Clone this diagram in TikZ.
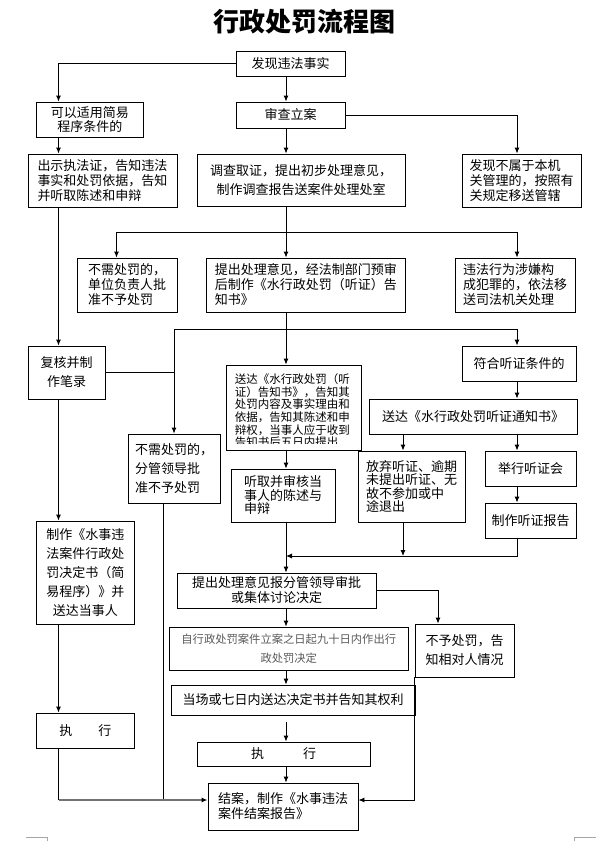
\documentclass[tikz,border=0pt]{standalone}
\usepackage{fontspec}
\newfontfamily\cjk{Noto Sans CJK SC}
\usetikzlibrary{arrows.meta}

\newcommand{\zh}[2]{\cjk\fontsize{#1}{#2}\selectfont}
\tikzset{
  box/.style={draw, line width=0.9pt, inner sep=2pt, align=center},
  flow/.style={line width=0.9pt, -{Latex[length=6pt,width=5pt]}},
  link/.style={line width=0.9pt},
}

\begin{document}
\begin{tikzpicture}[x=1pt,y=-1pt,every node/.style={font=\zh{13}{15}}]
  \useasboundingbox (0,0) rectangle (601,841);
  \node[font=\cjk\bfseries\fontsize{26}{30}\selectfont] (title) at (304,22) {行政处罚流程图};

  % column and row positions of the connectors
  \coordinate (colL) at (58.5,0);
  \coordinate (colA) at (116.5,0);
  \coordinate (colG) at (163.5,0);
  \coordinate (colB) at (174,0);
  \coordinate (colM) at (286,0);
  \coordinate (colF) at (403,0);
  \coordinate (colP) at (438,0);
  \coordinate (colR) at (517,0);
  \coordinate (fork1) at (0,232);
  \coordinate (fork2) at (0,329);
  \coordinate (merge) at (0,556);
  \coordinate (endrow) at (0,800);

  % boxes
  \node[box, minimum width=109, minimum height=25] (faxian) at (290.5,63.5) {发现违法事实};
  \node[box, minimum width=106.5, minimum height=35, font=\zh{13}{14}] (jianyi) at (89.75,119.5) {可以适用简易\\程序条件的};
  \node[box, minimum width=109, minimum height=26] (shencha) at (290.5,115) {审查立案};
  \node[box, minimum width=149, minimum height=53, align=left] (chushi) at (102.5,180.5) {出示执法证，告知违法\\事实和处罚依据，告知\\并听取陈述和申辩};
  \node[box, minimum width=208, minimum height=52, font=\zh{13}{19}] (diaocha) at (301,180) {调查取证，提出初步处理意见，\\制作调查报告送案件处理处室};
  \node[box, minimum width=119, minimum height=53, align=left] (bushu) at (521.5,180.5) {发现不属于本机\\关管理的，按照有\\关规定移送管辖};
  \node[box, minimum width=100, minimum height=54, align=left] (buxu1) at (127,285) {不需处罚的，\\单位负责人批\\准不予处罚};
  \node[box, minimum width=198.5, minimum height=54, align=left] (tichu1) at (305.75,285) {提出处理意见，经法制部门预审\\后制作《水行政处罚（听证）告\\知书》};
  \node[box, minimum width=120, minimum height=54, align=left] (fanzui) at (515,285) {违法行为涉嫌构\\成犯罪的，依法移\\送司法机关处理};
  \node[box, minimum width=77, minimum height=53, font=\zh{13}{19}] (fuhe) at (66.5,372.5) {复核并制\\作笔录};
  \node[box, minimum width=92, minimum height=69, align=left, font=\zh{13}{19}] (buxu2) at (174,468.5) {不需处罚的，\\分管领导批\\准不予处罚};
  \node[box, minimum width=135, minimum height=85] (songda1) at (293.5,407.5) {};
  \begin{scope}
    \clip (songda1.north west) rectangle ([yshift=7pt]songda1.south east);
    \node[anchor=north west, inner sep=0pt, align=left, font=\zh{11.5}{12.6}] (songdaText) at ([xshift=9pt,yshift=-9pt]songda1.north west) {送达《水行政处罚（听\\证）告知书》，告知其\\处罚内容及事实理由和\\依据，告知其陈述和申\\辩权，当事人应于收到\\告知书后五日内提出};
  \end{scope}
  \node[box, minimum width=114, minimum height=35] (fuheTZ) at (519,363.5) {符合听证条件的};
  \node[box, minimum width=208, minimum height=35] (tongzhi) at (473,416.5) {送达《水行政处罚听证通知书》};
  \node[box, minimum width=107, minimum height=71, align=left, font=\zh{13}{13.5}] (fangqi) at (411.5,486.5) {放弃听证、逾期\\未提出听证、无\\故不参加或中\\途退出};
  \node[box, minimum width=91, minimum height=35] (juxing) at (530.5,468.5) {举行听证会};
  \node[box, minimum width=91, minimum height=35] (baogao) at (530.5,520.5) {制作听证报告};
  \node[box, minimum width=104, minimum height=53, align=left, font=\zh{13}{13.5}] (tingqu) at (283,495.5) {听取并审核当\\事人的陈述与\\申辩};
  \node[box, minimum width=97.5, minimum height=103, font=\zh{13}{19}] (jueding) at (85.25,572.5) {制作《水事违\\法案件行政处\\罚决定书（简\\易程序）》并\\送达当事人};
  \node[box, minimum width=199, minimum height=35] (tichu2) at (276.5,590.5) {提出处理意见报分管领导审批\\或集体讨论决定};
  \node[box, minimum width=99, minimum height=53, font=\zh{13}{19}] (buyu) at (464.5,650.5) {不予处罚，告\\知相对人情况};
  \node[box, minimum width=239.5, minimum height=43, text=black!65, font=\zh{11.3}{19}] (jiushi) at (288.75,648.5) {自行政处罚案件立案之日起九十日内作出行\\政处罚决定};
  \node[box, minimum width=244, minimum height=30] (dangchang) at (293,700) {当场或七日内送达决定书并告知其权利};
  \node[box, minimum width=97.5, minimum height=35] (zhixingL) at (85.25,730.5) {执　　行};
  \node[box, minimum width=173, minimum height=24] (zhixingM) at (283.5,754) {执　　　行};
  \node[box, minimum width=150, minimum height=47, align=left] (jiean) at (283,806.5) {结案，制作《水事违法\\案件结案报告》};

  % top part
  \draw[flow] (faxian.west) -| (jianyi.north -| colL);
  \draw[flow] (faxian.south -| colM) -- (shencha.north -| colM);
  \draw[flow] (shencha.east) -| (bushu.north -| colR);
  \draw[flow] (jianyi.south -| colL) -- (chushi.north -| colL);
  \draw[flow] (shencha.south -| colM) -- (diaocha.north -| colM);
  \draw[link] (diaocha.south -| colM) -- (fork1 -| colM);
  \draw[flow] (fork1 -| colM) -| (buxu1.north -| colA);
  \draw[flow] (fork1 -| colM) -| (fanzui.north -| colR);
  \draw[flow] (fork1 -| colM) -- (tichu1.north -| colM);

  % middle part
  \draw[link] (tichu1.south -| colM) -- (fork2 -| colM);
  \draw[flow] (fork2 -| colM) -| (buxu2.north -| colB);
  \draw[flow] (fork2 -| colM) -| (fuheTZ.north -| colR);
  \draw[flow] (fork2 -| colM) -- (songda1.north -| colM);
  \draw[link] (fuhe.east) -- (fuhe.east -| colB);
  \draw[flow] (chushi.south -| colL) -- (fuhe.north -| colL);
  \draw[flow] (fuhe.south -| colL) -- (jueding.north -| colL);
  \draw[flow] (fuheTZ.south -| colR) -- (tongzhi.north -| colR);
  \draw[flow] (tongzhi.south -| colF) -- (fangqi.north -| colF);
  \draw[flow] (tongzhi.south -| colR) -- (juxing.north -| colR);
  \draw[flow] (juxing.south -| colR) -- (baogao.north -| colR);
  \draw[flow] (fangqi.south -| colF) -- (merge -| colF);
  \draw[flow] (baogao.south -| colR) |- (merge -| colM);
  \draw[flow] (songda1.south -| colM) -- (tingqu.north -| colM);
  \draw[flow] (tingqu.south -| colM) -- (tichu2.north -| colM);

  % lower part
  \draw[flow] (tichu2.east) -| (buyu.north -| colP);
  \draw[flow] (tichu2.south -| colM) -- (jiushi.north -| colM);
  \draw[flow] (jiushi.south -| colM) -- (dangchang.north -| colM);
  \draw[flow, shorten <=7pt] (dangchang.south -| colM) -- (zhixingM.north -| colM);
  \draw[flow] (zhixingM.south -| colM) -- (jiean.north -| colM);
  \draw[flow] (jueding.south -| colL) -- (zhixingL.north -| colL);
  \draw[link] (zhixingL.south -| colL) -- (endrow -| colL);
  \draw[link] (buxu2.south -| colG) -- (endrow -| colG);
  \draw[draw=black!55, line width=1.6pt, -{Latex[length=6pt,width=5pt,black]}] (endrow -| colL) -- (jiean.west |- endrow);
  \draw[flow] (buyu.south west) |- (jiean.east |- endrow);

  % page corner marks
  \draw[black!35] (26,837) -- (47,837) -- (47,841);
  \draw[black!35] (574,841) -- (574,837) -- (596,837);
\end{tikzpicture}
\end{document}
